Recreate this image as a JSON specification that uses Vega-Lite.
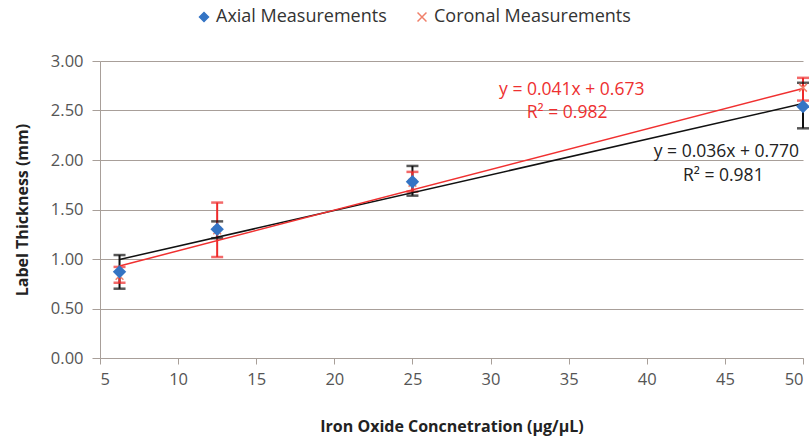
{
  "$schema": "https://vega.github.io/schema/vega-lite/v6.json",
  "width": 703,
  "height": 297,
  "autosize": {"type": "none"},
  "padding": {"left": 100, "top": 61, "right": 6, "bottom": 81},
  "background": "white",
  "config": {
    "view": {"stroke": null},
    "font": "Open Sans",
    "axis": {
      "gridColor": "#a89f99",
      "domainColor": "#a89f99",
      "tickColor": "#a89f99",
      "labelColor": "#555555",
      "labelFontSize": 16.5,
      "titleFontSize": 16,
      "titleFontWeight": "bold",
      "titleColor": "#222222"
    }
  },
  "datasets": {
    "pts": [
      {"series": "Axial Measurements", "x": 6.25, "y": 0.87, "lo": 0.70, "hi": 1.04},
      {"series": "Axial Measurements", "x": 12.5, "y": 1.30, "lo": 1.21, "hi": 1.38},
      {"series": "Axial Measurements", "x": 25, "y": 1.78, "lo": 1.64, "hi": 1.94},
      {"series": "Axial Measurements", "x": 50, "y": 2.54, "lo": 2.32, "hi": 2.78},
      {"series": "Coronal Measurements", "x": 6.25, "y": 0.83, "lo": 0.76, "hi": 0.92},
      {"series": "Coronal Measurements", "x": 12.5, "y": 1.29, "lo": 1.02, "hi": 1.57},
      {"series": "Coronal Measurements", "x": 25, "y": 1.77, "lo": 1.68, "hi": 1.88},
      {"series": "Coronal Measurements", "x": 50, "y": 2.73, "lo": 2.60, "hi": 2.83}
    ],
    "fit": [
      {"series": "Axial Measurements", "x": 6.25, "y": 0.995},
      {"series": "Axial Measurements", "x": 50, "y": 2.57},
      {"series": "Coronal Measurements", "x": 6.25, "y": 0.929},
      {"series": "Coronal Measurements", "x": 50, "y": 2.723}
    ],
    "eq": [
      {"series": "Coronal Measurements", "x": 35.2, "y": 2.71, "label": "y = 0.041x + 0.673"},
      {"series": "Coronal Measurements", "x": 34.9, "y": 2.47, "label": "R² = 0.982"},
      {"series": "Axial Measurements", "x": 45.1, "y": 2.08, "label": "y = 0.036x + 0.770"},
      {"series": "Axial Measurements", "x": 44.9, "y": 1.84, "label": "R² = 0.981"}
    ]
  },
  "encoding": {
    "x": {
      "field": "x", "type": "quantitative",
      "scale": {"domain": [5, 50], "nice": false, "zero": false},
      "axis": {
        "title": "Iron Oxide Concnetration (μg/μL)",
        "values": [5, 10, 15, 20, 25, 30, 35, 40, 45, 50],
        "grid": false, "tickSize": 6, "labelPadding": 7, "titlePadding": 31
      }
    }
  },
  "layer": [
    {
      "data": {"name": "pts"},
      "mark": {"type": "rule", "strokeWidth": 2},
      "encoding": {
        "y": {
          "field": "lo", "type": "quantitative",
          "scale": {"domain": [0, 3], "nice": false},
          "axis": {
            "title": "Label Thickness (mm)",
            "values": [0, 0.5, 1, 1.5, 2, 2.5, 3],
            "format": ".2f", "grid": true, "tickSize": 8, "labelPadding": 9, "titlePadding": 20
          }
        },
        "y2": {"field": "hi"},
        "color": {"condition": {"test": "datum.series === 'Coronal Measurements'", "value": "#ee2a2a"}, "value": "#111111"}
      }
    },
    {
      "data": {"name": "pts"},
      "mark": {"type": "tick", "orient": "horizontal", "size": 12, "thickness": 2.5},
      "encoding": {
        "y": {"field": "lo", "type": "quantitative"},
        "color": {"condition": {"test": "datum.series === 'Coronal Measurements'", "value": "#ee2a2a"}, "value": "#111111"}
      }
    },
    {
      "data": {"name": "pts"},
      "mark": {"type": "tick", "orient": "horizontal", "size": 12, "thickness": 2.5},
      "encoding": {
        "y": {"field": "hi", "type": "quantitative"},
        "color": {"condition": {"test": "datum.series === 'Coronal Measurements'", "value": "#ee2a2a"}, "value": "#111111"}
      }
    },
    {
      "data": {"name": "fit"},
      "mark": {"type": "line", "strokeWidth": 1.5},
      "encoding": {
        "y": {"field": "y", "type": "quantitative"},
        "detail": {"field": "series"},
        "color": {"condition": {"test": "datum.series === 'Coronal Measurements'", "value": "#f03030"}, "value": "#111111"}
      }
    },
    {
      "data": {"name": "pts"},
      "transform": [{"filter": "datum.series === 'Coronal Measurements'"}],
      "mark": {"type": "point", "filled": false, "strokeWidth": 1.5, "size": 60, "opacity": 1},
      "encoding": {
        "y": {"field": "y", "type": "quantitative"},
        "color": {
          "field": "series", "type": "nominal",
          "scale": {"domain": ["Axial Measurements", "Coronal Measurements"], "range": ["#3474c4", "#f0806a"]},
          "legend": {
            "title": null, "orient": "none", "legendX": 95, "legendY": -53,
            "direction": "horizontal", "labelFontSize": 18, "labelColor": "#333333", "labelLimit": 400,
            "symbolSize": 80, "columnPadding": 26, "labelOffset": 3, "padding": 0,
            "encode": {"symbols": {"update": {"stroke": {"scale": "color", "field": "value"}, "fill": {"scale": "color", "field": "value"}, "strokeWidth": {"value": 1.5}}}}
          }
        },
        "shape": {
          "field": "series", "type": "nominal",
          "scale": {"domain": ["Axial Measurements", "Coronal Measurements"], "range": ["diamond", "M-1,-1L1,1M-1,1L1,-1"]}
        }
      }
    },
    {
      "data": {"name": "pts"},
      "transform": [{"filter": "datum.series === 'Axial Measurements'"}],
      "mark": {"type": "point", "filled": true, "size": 180, "opacity": 1},
      "encoding": {
        "y": {"field": "y", "type": "quantitative"},
        "color": {"field": "series", "type": "nominal"},
        "shape": {"field": "series", "type": "nominal"}
      }
    },
    {
      "data": {"name": "eq"},
      "mark": {"type": "text", "fontSize": 17.5, "align": "center", "baseline": "middle"},
      "encoding": {
        "y": {"field": "y", "type": "quantitative"},
        "text": {"field": "label"},
        "color": {"condition": {"test": "datum.series === 'Coronal Measurements'", "value": "#ee3030"}, "value": "#222222"}
      }
    }
  ]
}
